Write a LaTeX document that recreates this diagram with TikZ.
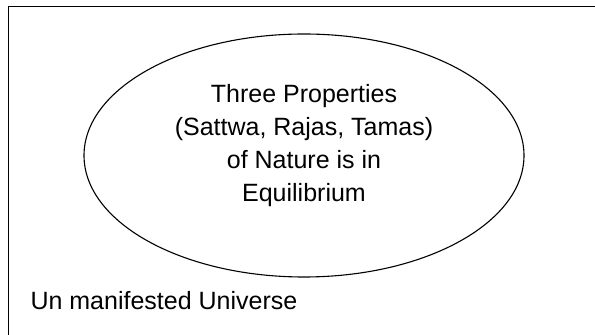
\documentclass[tikz,border=0pt]{standalone}
\usepackage{fontspec}
\setmainfont{Liberation Sans}
\usetikzlibrary{positioning,shapes.geometric}

\begin{document}
\begin{tikzpicture}[x=1pt, y=1pt, line width=1.1pt,
    every node/.style={font=\fontsize{25}{33}\selectfont}]
    \useasboundingbox (0,0) rectangle (595,335);
    % outer frame, cut off at the right and at the bottom
    \node[draw, rectangle, anchor=north west, minimum width=620pt, minimum height=360pt, inner sep=0pt] (universe) at (8,329) {};
    \node[draw, ellipse, minimum width=440pt, minimum height=243pt] (nature) at (304,179.5) {};
    \node[align=center, inner sep=0pt] (props) at (304,189.5)
        {Three Properties\\(Sattwa, Rajas, Tamas)\\of Nature is in\\Equilibrium};
    \node[anchor=base west, inner sep=0pt] (label) at (30,25) {Un manifested Universe};
\end{tikzpicture}
\end{document}
